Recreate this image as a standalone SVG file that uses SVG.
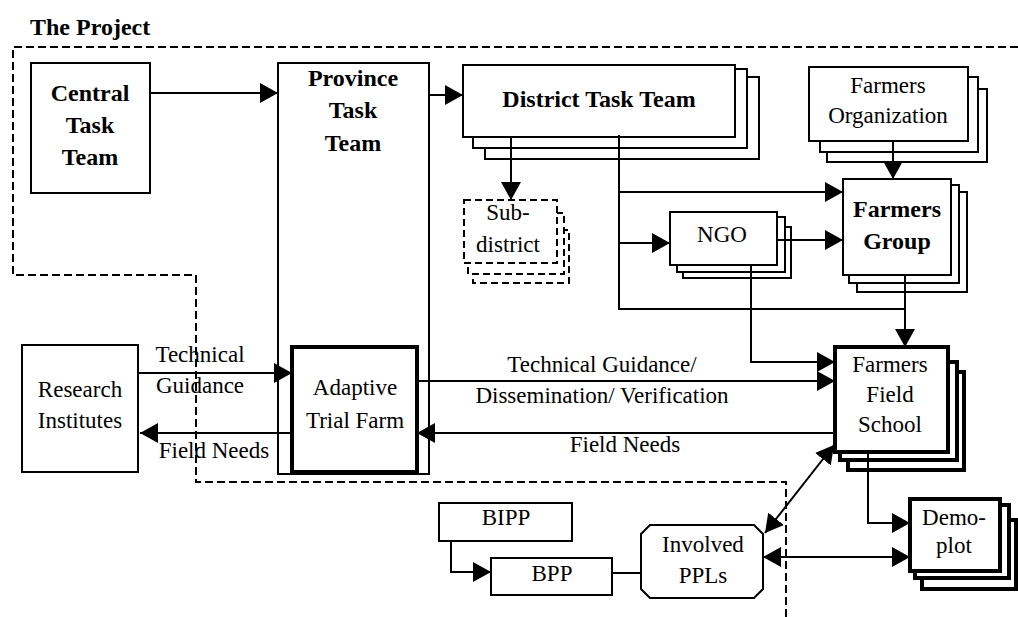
<svg xmlns="http://www.w3.org/2000/svg" width="1018" height="617" viewBox="0 0 1018 617">
  <style>
    .t { font-family: "Liberation Serif", "Times New Roman", serif; font-size: 23px; fill: #000; text-anchor: middle; }
    .b { font-weight: bold; font-size: 24px; }
    .box { fill: #fff; stroke: #000; stroke-width: 2; }
    .thick { fill: #fff; stroke: #000; stroke-width: 4; }
    .dash { fill: #fff; stroke: #000; stroke-width: 2; stroke-dasharray: 7 4; }
    .line { fill: none; stroke: #000; stroke-width: 2; }
    .arr { marker-end: url(#head); }
    .both { marker-end: url(#head); marker-start: url(#head); }
    .edge { fill: none; stroke: #000; stroke-width: 2; stroke-dasharray: 8 4; }
  </style>
  <defs>
    <marker id="head" markerUnits="userSpaceOnUse" markerWidth="18" markerHeight="20" refX="18" refY="10" orient="auto-start-reverse">
      <path d="M0,0 L18,10 L0,20 Z" fill="#000"/>
    </marker>
  </defs>
  <rect width="1018" height="617" fill="#fff"/>

  <text class="t b" x="30" y="35" style="text-anchor:start">The Project</text>

  <!-- project boundary -->
  <path class="edge" d="M1018,47 H13 V275 H196 V482 H786 V617"/>

  <g id="central-task-team">
    <rect class="box" x="31" y="63" width="119" height="130"/>
    <text class="t b" x="90" y="101">Central</text>
    <text class="t b" x="90" y="133">Task</text>
    <text class="t b" x="90" y="165">Team</text>
  </g>

  <g id="province-task-team">
    <rect class="box" x="278" y="63" width="151" height="411"/>
    <text class="t b" x="353" y="86">Province</text>
    <text class="t b" x="353" y="118">Task</text>
    <text class="t b" x="353" y="151">Team</text>
  </g>

  <g id="adaptive-trial-farm">
    <rect class="thick" x="292" y="347" width="125" height="125"/>
    <text class="t" x="355" y="395">Adaptive</text>
    <text class="t" x="355" y="428">Trial Farm</text>
  </g>

  <g id="research-institutes">
    <rect class="box" x="22" y="345" width="116" height="127"/>
    <text class="t" x="80" y="397">Research</text>
    <text class="t" x="80" y="428">Institutes</text>
  </g>

  <g id="district-task-team">
    <path class="box" d="M485,77 H759 V159 H485 Z"/>
    <path class="box" d="M473,69 H747 V148 H473 Z"/>
    <rect class="box" x="463" y="65" width="272" height="72"/>
    <text class="t b" x="599" y="107">District Task Team</text>
  </g>

  <g id="sub-district">
    <rect class="dash" x="473" y="230" width="96" height="53"/>
    <rect class="dash" x="468" y="213" width="96" height="61"/>
    <rect class="dash" x="464" y="200" width="93" height="63"/>
    <text class="t" x="508" y="220">Sub-</text>
    <text class="t" x="508" y="252">district</text>
  </g>

  <g id="farmers-organization">
    <rect class="box" x="827" y="89" width="160" height="73"/>
    <rect class="box" x="820" y="77" width="158" height="75"/>
    <rect class="box" x="809" y="67" width="159" height="74"/>
    <text class="t" x="888" y="93">Farmers</text>
    <text class="t" x="888" y="123">Organization</text>
  </g>

  <g id="farmers-group">
    <rect class="box" x="857" y="192" width="110" height="100"/>
    <rect class="box" x="849" y="185" width="110" height="98"/>
    <rect class="box" x="843" y="179" width="108" height="96"/>
    <text class="t b" x="897" y="217">Farmers</text>
    <text class="t b" x="897" y="249">Group</text>
  </g>

  <g id="ngo">
    <rect class="box" x="683" y="227" width="108" height="51"/>
    <rect class="box" x="677" y="217" width="108" height="55"/>
    <rect class="box" x="670" y="212" width="107" height="53"/>
    <text class="t" x="722" y="242">NGO</text>
  </g>

  <g id="farmers-field-school">
    <rect class="thick" x="848" y="372" width="116" height="98"/>
    <rect class="thick" x="840" y="362" width="117" height="98"/>
    <rect class="thick" x="835" y="347" width="113" height="105"/>
    <text class="t" x="890" y="372">Farmers</text>
    <text class="t" x="890" y="402">Field</text>
    <text class="t" x="890" y="432">School</text>
  </g>

  <g id="demo-plot">
    <rect class="thick" x="922" y="520" width="94" height="69"/>
    <rect class="thick" x="915" y="505" width="94" height="73"/>
    <rect class="thick" x="910" y="499" width="90" height="72"/>
    <text class="t" x="954" y="525">Demo-</text>
    <text class="t" x="954" y="553">plot</text>
  </g>

  <g id="involved-ppls">
    <path class="box" d="M650,525 H754 L763,534 V589 L754,598 H650 L641,589 V534 Z"/>
    <text class="t" x="703" y="552">Involved</text>
    <text class="t" x="703" y="583">PPLs</text>
  </g>

  <g id="bipp">
    <rect class="box" x="439" y="503" width="133" height="38"/>
    <text class="t" x="506" y="525">BIPP</text>
  </g>

  <g id="bpp">
    <rect class="box" x="491" y="558" width="121" height="37"/>
    <text class="t" x="552" y="581">BPP</text>
  </g>

  <g id="connectors">
    <path class="line arr" d="M150,93 H278"/>
    <path class="line arr" d="M429,95 H463"/>
    <path class="line arr" d="M511,137 V200"/>
    <path class="line" d="M619,135 V309 H905"/>
    <path class="line arr" d="M619,192 H843"/>
    <path class="line arr" d="M619,243 H670"/>
    <path class="line arr" d="M777,240 H843"/>
    <path class="line arr" d="M893,141 V179"/>
    <path class="line arr" d="M905,275 V347"/>
    <path class="line arr" d="M751,265 V362 H835"/>
    <path class="line arr" d="M417,381 H835"/>
    <path class="line arr" d="M835,433 H417"/>
    <path class="line arr" d="M138,373 H292"/>
    <path class="line arr" d="M292,433 H140"/>
    <path class="line both" d="M765,533 L834,445"/>
    <path class="line both" d="M763,557 H910"/>
    <path class="line arr" d="M868,452 V523 H910"/>
    <path class="line arr" d="M451,541 V572 H491"/>
    <path class="line" d="M612,573 H641"/>
  </g>

  <g id="labels">
    <text class="t" x="200" y="362">Technical</text>
    <text class="t" x="200" y="393">Guidance</text>
    <text class="t" x="214" y="458">Field Needs</text>
    <text class="t" x="602" y="372">Technical Guidance/</text>
    <text class="t" x="602" y="403">Dissemination/ Verification</text>
    <text class="t" x="625" y="452">Field Needs</text>
  </g>
</svg>
